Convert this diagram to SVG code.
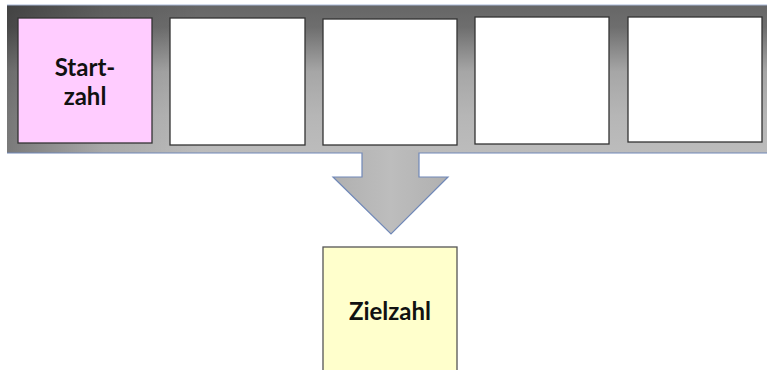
<svg xmlns="http://www.w3.org/2000/svg" width="767" height="370" viewBox="0 0 767 370">
  <defs>
    <linearGradient id="barV" gradientUnits="userSpaceOnUse" x1="0" y1="5" x2="0" y2="153">
      <stop offset="0" stop-color="#666666"/>
      <stop offset="0.15" stop-color="#6e6e6e"/>
      <stop offset="0.45" stop-color="#a6a6a6"/>
      <stop offset="0.75" stop-color="#b6b6b6"/>
      <stop offset="1" stop-color="#bcbcbc"/>
    </linearGradient>
    <linearGradient id="barH" gradientUnits="userSpaceOnUse" x1="7" y1="0" x2="200" y2="0">
      <stop offset="0" stop-color="#000" stop-opacity="0.35"/>
      <stop offset="0.5" stop-color="#000" stop-opacity="0.1"/>
      <stop offset="1" stop-color="#000" stop-opacity="0"/>
    </linearGradient>
    <linearGradient id="arrowG" gradientUnits="userSpaceOnUse" x1="333" y1="0" x2="448" y2="0">
      <stop offset="0" stop-color="#b0b0b0"/>
      <stop offset="0.5" stop-color="#bdbdbd"/>
      <stop offset="1" stop-color="#b0b0b0"/>
    </linearGradient>
  </defs>
  <style>
    .box { fill: #ffffff; stroke: #333333; stroke-width: 1.3; }
    .lbl { font-family: Lato, "Open Sans", "Liberation Sans", sans-serif; font-weight: bold; font-size: 24px; fill: #111111; text-anchor: middle; }
    .edge { fill: none; stroke: #7088b8; stroke-width: 1.2; }
  </style>

  <g id="bar">
    <rect x="7" y="5" width="760" height="148" fill="url(#barV)"/>
    <rect x="7" y="5" width="760" height="148" fill="url(#barH)"/>
    <line x1="7" y1="5" x2="767" y2="5" stroke="#a8b8d8" stroke-width="1.2"/>
  </g>

  <g id="connectors">
    <polygon points="362,150 419,150 419,177 448,177 391,234 333,177 362,177" fill="url(#arrowG)"/>
    <polyline class="edge" points="7,153 362,153 362,177 333,177 391,234 448,177 419,177 419,153 767,153"/>
  </g>

  <g id="start">
    <rect class="box" x="18" y="18" width="134" height="125" fill="#ffccff" style="fill:#ffccff"/>
    <text class="lbl" x="85" y="76">Start-</text>
    <text class="lbl" x="85" y="105">zahl</text>
  </g>
  <g id="cell2">
    <rect class="box" x="170" y="18" width="135" height="127"/>
  </g>
  <g id="cell3">
    <rect class="box" x="323" y="19" width="134" height="126"/>
  </g>
  <g id="cell4">
    <rect class="box" x="475" y="17" width="134" height="127"/>
  </g>
  <g id="cell5">
    <rect class="box" x="628" y="17" width="134" height="125"/>
  </g>

  <g id="ziel">
    <rect class="box" x="323" y="247" width="134" height="130" style="fill:#ffffcc;stroke:#555555"/>
    <text class="lbl" x="390" y="320">Zielzahl</text>
  </g>
</svg>
